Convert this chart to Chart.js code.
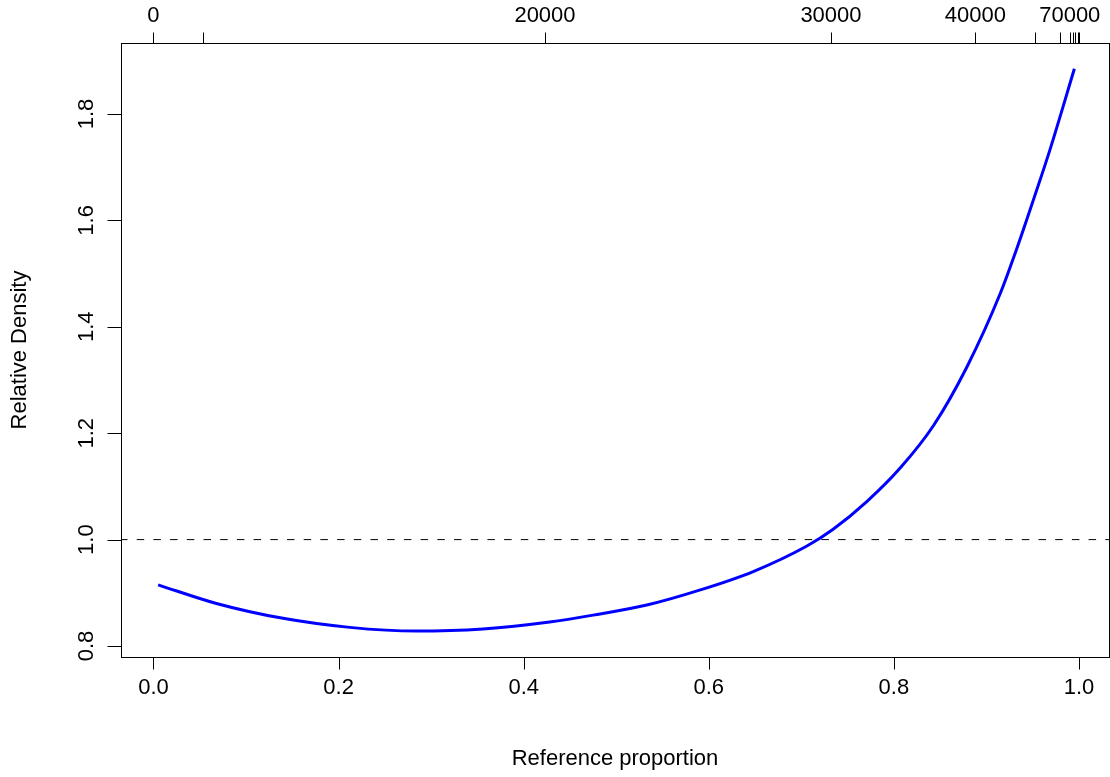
<!DOCTYPE html>
<html>
<head>
<meta charset="utf-8">
<script src="https://cdn.jsdelivr.net/npm/chart.js@4"></script>
<style>
  html, body { margin: 0; padding: 0; background: #fff; }
</style>
</head>
<body>
<canvas id="chart" width="1110" height="777"></canvas>
<script>
// Relative density curve
const refProportion = [0.005, 0.068, 0.140, 0.212, 0.284, 0.356, 0.428, 0.475, 0.533, 0.590,
                       0.648, 0.706, 0.734, 0.771, 0.807, 0.843, 0.879, 0.915, 0.933, 0.951, 0.969, 0.995];
const relDensity    = [0.915, 0.880, 0.852, 0.835, 0.828, 0.832, 0.845, 0.858, 0.877, 0.905,
                       0.940, 0.988, 1.019, 1.072, 1.135, 1.215, 1.325, 1.463, 1.548, 1.640, 1.735, 1.885];

// axes
const xTicks = [0, 0.2, 0.4, 0.6, 0.8, 1.0];
const yTicks = [0.8, 1.0, 1.2, 1.4, 1.6, 1.8];
const topTickPos    = [0, 0.053, 0.423, 0.732, 0.888, 0.952, 0.979, 0.990, 0.993, 0.996, 0.9986, 0.9997];
const topTickLabels = ['0', '', '20000', '30000', '40000', '', '', '70000', '', '', '', ''];
const xRange = [-0.0351, 1.0324];
const yRange = [0.7793, 1.9335];
const refLevel = 1.0;

const FONT = '22px "Liberation Sans", Arial, Helvetica, sans-serif';

// draws the R-style box, ticks and labels using the chart scales
const rAxes = {
    id: 'rAxes',
    afterDraw(chart) {
        const ctx = chart.ctx;
        const area = chart.chartArea;
        const xs = chart.scales.x;
        const ys = chart.scales.y;
        const px = v => Math.round(xs.getPixelForValue(v)) + 0.5;
        const py = v => Math.round(ys.getPixelForValue(v)) + 0.5;
        const L = Math.round(area.left) + 0.5, R = Math.round(area.right) + 0.5;
        const T = Math.round(area.top) + 0.5, B = Math.round(area.bottom) + 0.5;

        ctx.save();
        ctx.strokeStyle = '#000';
        ctx.lineWidth = 1;
        ctx.strokeRect(L, T, R - L, B - T);

        ctx.beginPath();
        // bottom axis
        xTicks.forEach(v => { ctx.moveTo(px(v), B); ctx.lineTo(px(v), B + 12); });
        // left axis
        yTicks.forEach(v => { ctx.moveTo(L, py(v)); ctx.lineTo(L - 14, py(v)); });
        // top axis
        topTickPos.forEach(v => { ctx.moveTo(px(v), T); ctx.lineTo(px(v), T - 11); });
        ctx.stroke();

        ctx.fillStyle = '#000';
        ctx.font = FONT;
        ctx.textAlign = 'center';
        ctx.textBaseline = 'alphabetic';
        xTicks.forEach(v => ctx.fillText(v.toFixed(1), xs.getPixelForValue(v), 694));
        topTickPos.forEach((v, i) => {
            if (topTickLabels[i]) ctx.fillText(topTickLabels[i], xs.getPixelForValue(v), 22);
        });
        ctx.fillText('Reference proportion', (area.left + area.right) / 2, 765);

        yTicks.forEach(v => {
            ctx.save();
            ctx.translate(93, ys.getPixelForValue(v));
            ctx.rotate(-Math.PI / 2);
            ctx.fillText(v.toFixed(1), 0, 0);
            ctx.restore();
        });
        ctx.save();
        ctx.translate(26, (area.top + area.bottom) / 2);
        ctx.rotate(-Math.PI / 2);
        ctx.fillText('Relative Density', 0, 0);
        ctx.restore();
        ctx.restore();
    }
};

new Chart(document.getElementById('chart').getContext('2d'), {
    type: 'line',
    data: {
        datasets: [
            {
                data: refProportion.map((p, i) => ({ x: p, y: relDensity[i] })),
                borderColor: '#0000ff',
                borderWidth: 3,
                pointRadius: 0,
                cubicInterpolationMode: 'monotone',
                fill: false
            },
            {
                data: xRange.map(p => ({ x: p, y: refLevel })),
                borderColor: '#000000',
                borderWidth: 1,
                borderDash: [7.5, 9.2],
                borderDashOffset: 1,
                pointRadius: 0,
                fill: false
            }
        ]
    },
    options: {
        responsive: false,
        devicePixelRatio: 1,
        animation: false,
        layout: { padding: { left: 121, right: 1, top: 43, bottom: 120 } },
        scales: {
            x: { type: 'linear', min: xRange[0], max: xRange[1], display: false },
            y: { type: 'linear', min: yRange[0], max: yRange[1], display: false }
        },
        plugins: {
            legend: { display: false },
            tooltip: { enabled: false }
        }
    },
    plugins: [rAxes]
});
</script>
</body>
</html>
